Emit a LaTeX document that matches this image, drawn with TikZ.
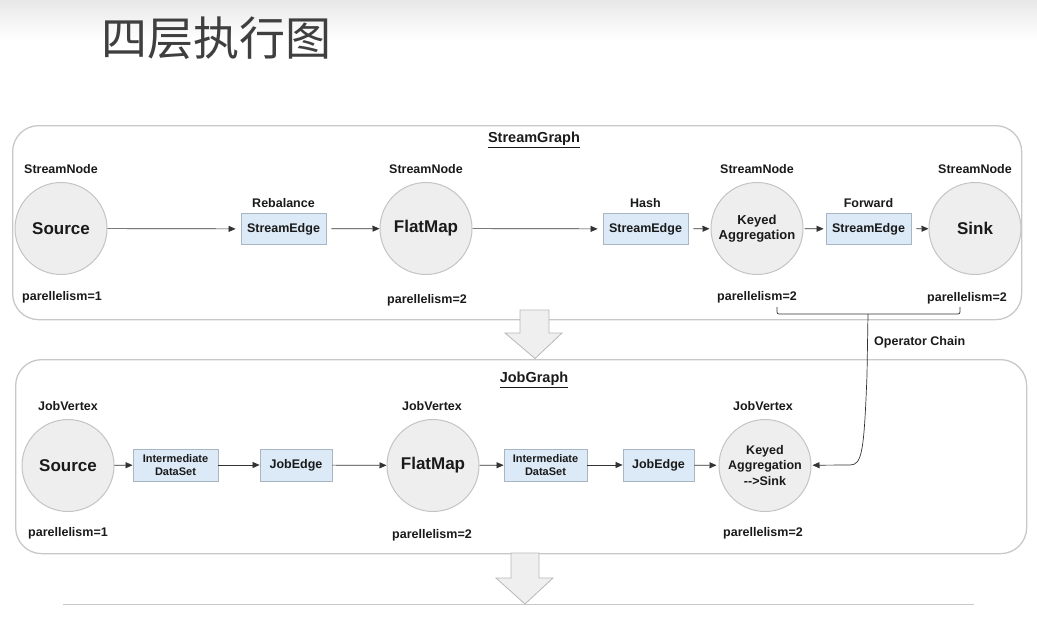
\documentclass[tikz,border=0pt]{standalone}
\usepackage{fontspec}
\setmainfont{Liberation Sans}
\newfontfamily\cjk{Noto Sans CJK SC}
\usetikzlibrary{arrows.meta}
\definecolor{circfill}{HTML}{EEEEEE}
\definecolor{circline}{HTML}{C4C4C4}
\definecolor{boxfill}{HTML}{DCE9F7}
\definecolor{boxline}{HTML}{A8B5C3}
\definecolor{contline}{HTML}{C8C8C8}
\definecolor{txt}{HTML}{1A1A1A}
\definecolor{titlegray}{HTML}{3F3F3F}
\definecolor{arrline}{HTML}{333333}
\definecolor{bigfill}{HTML}{EFEFEF}
\definecolor{bigline}{HTML}{B8B8B8}
\begin{document}
\begin{tikzpicture}[x=1pt,y=-1pt,
  lbl/.style={font=\bfseries\fontsize{12.5}{15}\selectfont, text=txt, inner sep=0pt},
  gtitle/.style={font=\bfseries\fontsize{14.5}{17}\selectfont, text=txt, inner sep=0pt},
  circ/.style={circle, draw=circline, line width=1pt, fill=circfill, minimum size=92pt, inner sep=0pt,
     align=center, text=txt, font=\bfseries\fontsize{17}{20}\selectfont},
  circsm/.style={circ, font=\bfseries\fontsize{13}{15.5}\selectfont},
  ebox/.style={rectangle, draw=boxline, line width=0.8pt, fill=boxfill, minimum height=31pt, inner sep=0pt,
     align=center, text=txt, font=\bfseries\fontsize{12.5}{15}\selectfont},
  ibox/.style={ebox, font=\bfseries\fontsize{11}{13.5}\selectfont},
  container/.style={rectangle, draw=contline, line width=1.3pt, rounded corners=26pt, inner sep=0pt, anchor=north west},
  arr/.style={draw=arrline, line width=0.7pt, -{Triangle[length=7pt,width=6pt]}},
  conn/.style={draw=arrline, line width=0.7pt},
  bigarrow/.style={draw=bigline, fill=bigfill, line width=0.8pt, line join=miter}
]
\useasboundingbox (0,0) rectangle (1037,621);
\fill[top color=black!9, bottom color=white] (0,0) rectangle (1037,40);

% title
\node[anchor=west, inner sep=0pt, text=titlegray, font=\cjk\fontsize{46}{48}\selectfont] (title) at (101,38.5) {四层执行图};

% containers
\node[container, minimum width=1009pt, minimum height=194pt] (sg) at (12,125) {};
\node[container, minimum width=1011pt, minimum height=194pt] (jg) at (15,359) {};

\node[gtitle] (sgt) at (534,140) {\underline{StreamGraph}};
\node[gtitle] (jgt) at (534,380) {\underline{JobGraph}};

% ===== StreamGraph =====
\node[circ] (s1) at (61,228.5) {Source};
\node[circ] (s2) at (426,228.5) {FlatMap};
\node[circsm] (s3) at (757,228.5) {Keyed\\Aggregation};
\node[circ] (s4) at (975,228.5) {Sink};

\node[ebox, minimum width=85pt] (e1) at (283.5,229) {StreamEdge};
\node[ebox, minimum width=85pt] (e2) at (645.5,229) {StreamEdge};
\node[ebox, minimum width=85pt] (e3) at (868.5,229) {StreamEdge};

\node[lbl] (sn1) at (61,169) {StreamNode};
\node[lbl] (sn2) at (426,169) {StreamNode};
\node[lbl] (sn3) at (757,169) {StreamNode};
\node[lbl] (sn4) at (975,169) {StreamNode};

\node[lbl] (l1) at (283.5,203) {Rebalance};
\node[lbl] (l2) at (645.5,203) {Hash};
\node[lbl] (l3) at (868.5,203) {Forward};

\node[lbl] (p1) at (62,297) {parellelism=1};
\node[lbl] (p2) at (427,300) {parellelism=2};
\node[lbl] (p3) at (757,297) {parellelism=2};
\node[lbl] (p4) at (967,298) {parellelism=2};

\draw[arr, shorten >=5pt] (s1) -- (e1);
\draw[arr, shorten <=5pt] (e1) -- (s2);
\draw[arr, shorten >=5pt] (s2) -- (e2);
\draw[arr, shorten <=5pt, shorten >=1pt] (e2) -- (s3);
\draw[arr, shorten <=1pt, shorten >=2pt] (s3) -- (e3);
\draw[arr, shorten <=5pt] (e3) -- (s4);

% ===== JobGraph =====
\node[circ] (j1) at (68,465.5) {Source};
\node[circ] (j2) at (433,465.5) {FlatMap};
\node[circsm, font=\bfseries\fontsize{12.5}{15.5}\selectfont] (j3) at (765,465.5) {Keyed\\Aggregation\\-{}->Sink};

\node[ibox, minimum width=85pt, minimum height=32pt] (b1) at (175.5,465) {Intermediate\\DataSet};
\node[ebox, minimum width=72pt, minimum height=32pt] (b2) at (296,465) {JobEdge};
\node[ibox, minimum width=83pt, minimum height=32pt] (b3) at (545.5,465) {Intermediate\\DataSet};
\node[ebox, minimum width=71pt, minimum height=32pt] (b4) at (658.5,465) {JobEdge};

\node[lbl] (jv1) at (68,406) {JobVertex};
\node[lbl] (jv2) at (432,406) {JobVertex};
\node[lbl] (jv3) at (763,406) {JobVertex};

\node[lbl] (q1) at (68,533) {parellelism=1};
\node[lbl] (q2) at (432,535) {parellelism=2};
\node[lbl] (q3) at (763,533) {parellelism=2};

\draw[arr] (j1) -- (b1);
\draw[arr] (b1) -- (b2);
\draw[arr] (b2) -- (j2);
\draw[arr] (j2) -- (b3);
\draw[arr] (b3) -- (b4);
\draw[arr, shorten >=2pt] (b4) -- (j3);

% ===== Operator chain =====
\coordinate (ba) at (777,307);
\coordinate (bb) at (960,307);
\coordinate (bm) at (868,314);
\coordinate (bc) at (867,375);
\coordinate (bd) at (850,465);
\draw[conn, rounded corners=2pt] (ba) |- (bm) -| (bb);
\draw[arr, shorten >=1pt] (bm) -- (bc) .. controls (864,452) and (862,465) .. (bd) -- (j3);
\node[lbl, anchor=west] (oc) at (874,342) {Operator Chain};

% ===== big arrows =====
\draw[bigarrow] (520,310) -- (549,310) -- (549,333) -- (562,333) -- (535,358.5) -- (505,333) -- (520,333) -- cycle;
\draw[bigarrow] (511,553) -- (539,553) -- (539,578) -- (553,578) -- (525,604) -- (496,578) -- (511,578) -- cycle;
\draw[draw=contline, line width=1.3pt] (63,604.5) -- (974,604.5);
\end{tikzpicture}
\end{document}
